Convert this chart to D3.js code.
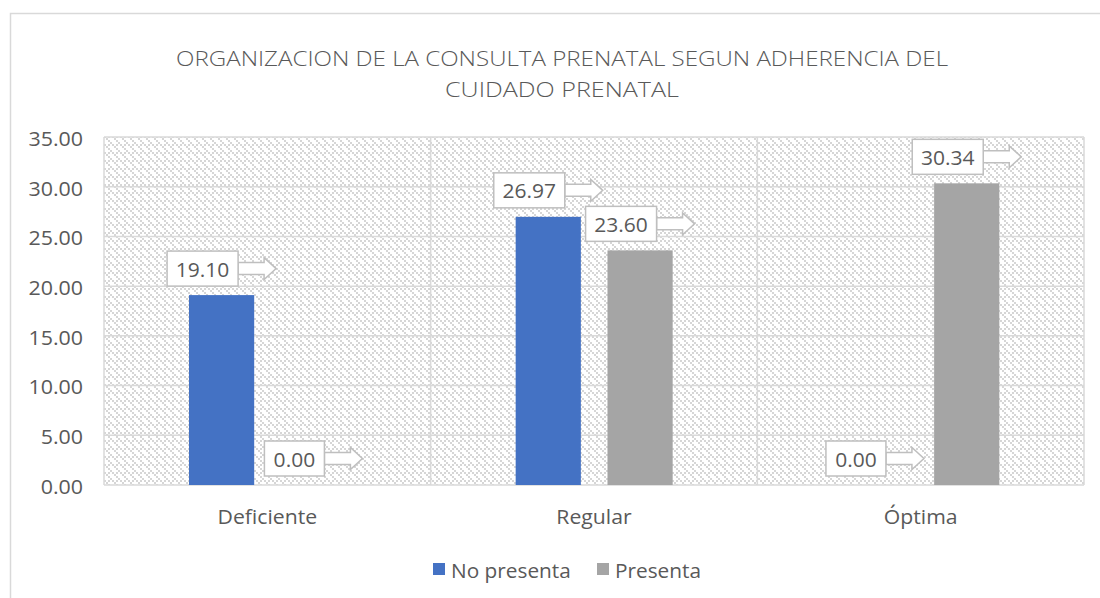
<!DOCTYPE html>
<html><head><meta charset="utf-8">
<script src="https://cdn.jsdelivr.net/npm/d3@7"></script>
<style>body{margin:0;background:#fff;} svg{display:block;}</style>
</head><body>
<svg id="c" width="1100" height="598"></svg>
<script>
const categories = ["Deficiente", "Regular", "Óptima"];
const seriesNames = ["No presenta", "Presenta"];
const noPresenta = [19.10, 26.97, 0.00];
const presenta = [0.00, 23.60, 30.34];
const yTicks = [0, 5, 10, 15, 20, 25, 30, 35];
const titleLines = ["ORGANIZACION DE LA CONSULTA PRENATAL SEGUN ADHERENCIA DEL", "CUIDADO PRENATAL"];
const colors = ["#4472C4", "#A5A5A5"];

const svg = d3.select("#c");
const font = "'Open Sans', sans-serif";
const txt = "#595959";
const stretch = (sel, f) => sel.each(function () {
  const w = this.getComputedTextLength();
  d3.select(this).attr("textLength", w * f).attr("lengthAdjust", "spacingAndGlyphs");
});

// outer chart border
svg.append("rect").attr("x", 10.5).attr("y", 13.5).attr("width", 1200).attr("height", 700)
  .attr("fill", "none").attr("stroke", "#d9d9d9").attr("stroke-width", 1.5);

// pattern
const defs = svg.append("defs");
const pat = defs.append("pattern").attr("id", "pat").attr("patternUnits", "userSpaceOnUse")
  .attr("width", 8).attr("height", 8);
pat.append("rect").attr("width", 8).attr("height", 8).attr("fill", "#fff");
[[0,0],[2,2],[4,4],[6,6],[4,0]].forEach(([px,py]) =>
  pat.append("rect").attr("x", px).attr("y", py).attr("width", 2).attr("height", 2).attr("fill", "#d6d6d6"));

const plot = {l: 104, r: 1084, t: 137, b: 485};
const x = d3.scaleBand().domain(categories).range([plot.l, plot.r]).paddingInner(0).paddingOuter(0);
const y = d3.scaleLinear().domain([0, 35]).range([plot.b, plot.t]);
const x1 = d3.scaleBand().domain(seriesNames).range([85, 327 - 85]).paddingInner(0.29);

svg.append("rect").attr("x", plot.l).attr("y", plot.t).attr("width", plot.r - plot.l)
  .attr("height", plot.b - plot.t).attr("fill", "url(#pat)");

// gridlines
svg.append("g").selectAll("line").data(yTicks).join("line")
  .attr("x1", plot.l).attr("x2", plot.r).attr("y1", d => y(d)).attr("y2", d => y(d))
  .attr("stroke", "#d9d9d9").attr("stroke-width", 1.5);
const bounds = categories.map(c => x(c)).concat([x(categories[2]) + x.bandwidth()]);
svg.append("g").selectAll("line").data(bounds).join("line")
  .attr("x1", d => d).attr("x2", d => d).attr("y1", plot.t).attr("y2", plot.b)
  .attr("stroke", "#d9d9d9").attr("stroke-width", 1.5);

// y axis labels
const yAxis = d3.axisLeft(y).tickValues(yTicks).tickFormat(d3.format(".2f")).tickSize(0).tickPadding(21);
const ya = svg.append("g").attr("transform", `translate(${plot.l},2)`).call(yAxis);
ya.select(".domain").remove();
ya.selectAll("text").attr("font-family", font).attr("font-size", 20).attr("fill", txt).call(stretch, 1.07);

// x axis labels
const xAxis = d3.axisBottom(x).tickSize(0).tickPadding(25);
const xa = svg.append("g").attr("transform", `translate(0,${plot.b})`).call(xAxis);
xa.select(".domain").remove();
xa.selectAll("text").attr("font-family", font).attr("font-size", 20).attr("fill", txt).call(stretch, 1.06);

// bars
const data = [];
categories.forEach((c, i) => {
  data.push({cat: c, s: seriesNames[0], v: noPresenta[i], col: colors[0]});
  data.push({cat: c, s: seriesNames[1], v: presenta[i], col: colors[1]});
});
svg.append("g").selectAll("rect").data(data.filter(d => d.v > 0)).join("rect")
  .attr("x", d => x(d.cat) + x1(d.s)).attr("width", x1.bandwidth())
  .attr("y", d => y(d.v)).attr("height", d => y(0) - y(d.v)).attr("fill", d => d.col);

// callout labels
const lab = svg.append("g");
data.forEach(d => {
  const cx = x(d.cat) + x1(d.s) + x1.bandwidth() / 2;
  const s = d.v.toFixed(2);
  const bw = s.length === 5 ? 71 : 60;
  const bh = 35;
  const arrowLen = 38;
  const total = bw + arrowLen;
  const bx = cx - total / 2;
  const by = y(d.v) - 9 - bh;
  const my = by + bh / 2;
  const ax = bx + bw;
  const sh = 6, hh = 11, hl = 12;
  const path = `M${ax},${my - sh} L${ax + arrowLen - hl},${my - sh} L${ax + arrowLen - hl},${my - hh} L${ax + arrowLen},${my} L${ax + arrowLen - hl},${my + hh} L${ax + arrowLen - hl},${my + sh} L${ax},${my + sh} Z`;
  lab.append("path").attr("d", path).attr("fill", "#fff").attr("stroke", "#bfbfbf").attr("stroke-width", 1.5);
  lab.append("rect").attr("x", bx).attr("y", by).attr("width", bw).attr("height", bh)
    .attr("fill", "#fff").attr("stroke", "#bfbfbf").attr("stroke-width", 1.5);
  lab.append("text").attr("x", bx + bw / 2).attr("y", my + 1).attr("dy", "0.35em")
    .attr("text-anchor", "middle").attr("font-family", font).attr("font-size", 20)
    .attr("fill", txt).text(s).call(stretch, 1.05);
});

// title
const tWidths = [772, 234];
svg.append("g").selectAll("text").data(titleLines).join("text")
  .attr("x", 562).attr("y", (d, i) => 66 + i * 31).attr("text-anchor", "middle")
  .attr("font-family", font).attr("font-weight", 300).attr("font-size", 21).attr("fill", txt)
  .attr("textLength", (d, i) => tWidths[i]).attr("lengthAdjust", "spacingAndGlyphs")
  .text(d => d);

// legend
const leg = svg.append("g");
const legX = [433, 597];
seriesNames.forEach((n, i) => {
  leg.append("rect").attr("x", legX[i]).attr("y", 563).attr("width", 12).attr("height", 12).attr("fill", colors[i]);
  leg.append("text").attr("x", legX[i] + 18).attr("y", 571).attr("dy", "0.35em")
    .attr("font-family", font).attr("font-size", 20).attr("fill", txt).text(n).call(stretch, 1.04);
});
</script>
</body></html>
